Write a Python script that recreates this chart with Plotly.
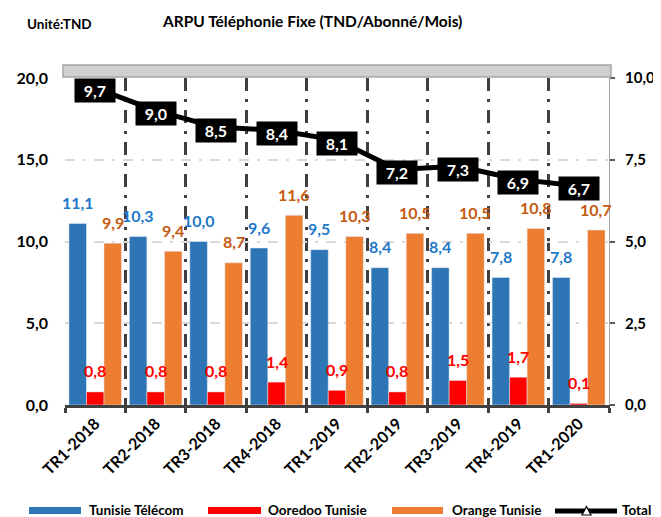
import plotly.graph_objects as go

# ---------------- data ----------------
categories = ["TR1-2018", "TR2-2018", "TR3-2018", "TR4-2018", "TR1-2019",
              "TR2-2019", "TR3-2019", "TR4-2019", "TR1-2020"]
tunisie_telecom = [11.1, 10.3, 10.0, 9.6, 9.5, 8.4, 8.4, 7.8, 7.8]
ooredoo_tunisie = [0.8, 0.8, 0.8, 1.4, 0.9, 0.8, 1.5, 1.7, 0.1]
orange_tunisie = [9.9, 9.4, 8.7, 11.6, 10.3, 10.5, 10.5, 10.8, 10.7]
total = [9.7, 9.0, 8.5, 8.4, 8.1, 7.2, 7.3, 6.9, 6.7]
left_ticks = [0, 5, 10, 15, 20]
right_ticks = [0, 2.5, 5, 7.5, 10]
series_names = ["Tunisie Télécom", "Ooredoo Tunisie", "Orange Tunisie", "Total"]

# ---------------- layout helpers ----------------
# The page body has an 8px margin, so the figure is drawn 8px in from the
# window's top-left corner.  Positions below are given in window pixels.
OFF = 8
WIN_W, WIN_H = 661, 517
PL, PR, PT, PB = 65, 609, 78, 405          # plot area in window pixels
W, H = WIN_W, WIN_H - OFF
ML, MT = PL - OFF, PT - OFF
MR, MB = W - (PR - OFF), H - (PB - OFF)
PW, PH = PR - PL, PB - PT
BARGAP = 0.13


def px(x):
    return (x - PL) / PW


def py(y):
    return (PB - y) / PH


def fmt(v):
    return f"{v:.1f}".replace(".", ",")


FONT = "Lato"
bar_colors = ["#2E75B6", "#FF0000", "#ED7D31"]
label_colors = ["#1F78C8", "#FF0000", "#C55A11"]
bar_series = [tunisie_telecom, ooredoo_tunisie, orange_tunisie]

fig = go.Figure()
for name, vals, col in zip(series_names[:3], bar_series, bar_colors):
    fig.add_trace(go.Bar(x=categories, y=vals, name=name, marker_color=col,
                         showlegend=False, hoverinfo="skip"))

fig.add_trace(go.Scatter(
    x=categories, y=total, name=series_names[3], yaxis="y2",
    mode="lines+markers", showlegend=False, hoverinfo="skip",
    line=dict(color="black", width=5),
    marker=dict(symbol="triangle-up", size=8, color="white",
                line=dict(color="black", width=1.5))))

annotations = []
bar_w_px = PW / len(categories) * (1 - BARGAP) / 3
for j, (vals, lc) in enumerate(zip(bar_series, label_colors)):
    for c, v in zip(categories, vals):
        annotations.append(dict(
            x=c, y=v, xref="x", yref="y", text=fmt(v), showarrow=False,
            xshift=(j - 1) * bar_w_px, yshift=21, yanchor="middle",
            font=dict(family=FONT, size=16, color=lc, weight="bold")))

for c, v in zip(categories, total):
    annotations.append(dict(
        x=c, y=v, xref="x", yref="y2", text=fmt(v), showarrow=False,
        yshift=-3, width=38, height=21, bgcolor="black",
        font=dict(family=FONT, size=16, color="white", weight="bold")))

# titles
annotations.append(dict(x=px(25), y=py(24), xref="paper", yref="paper",
                        text="Unité:TND", showarrow=False, xanchor="left",
                        yanchor="middle",
                        font=dict(family=FONT, size=13.5, color="black", weight="bold")))
annotations.append(dict(x=px(312), y=py(21), xref="paper", yref="paper",
                        text="ARPU Téléphonie Fixe (TND/Abonné/Mois)",
                        showarrow=False, xanchor="center", yanchor="middle",
                        font=dict(family=FONT, size=15.5, color="black", weight="bold")))

# custom legend
shapes = []
leg_y0, leg_y1 = 507, 514
leg_text_y = 510
leg_items = [(29, 81, 87), (208, 261, 266), (392, 443, 450)]
for (x0, x1, tx), col, name in zip(leg_items, bar_colors, series_names[:3]):
    shapes.append(dict(type="rect", xref="paper", yref="paper",
                       x0=px(x0), x1=px(x1), y0=py(leg_y1), y1=py(leg_y0),
                       fillcolor=col, line=dict(width=0)))
    annotations.append(dict(x=px(tx), y=py(leg_text_y), xref="paper", yref="paper",
                            text=name, showarrow=False, xanchor="left",
                            yanchor="middle",
                            font=dict(family=FONT, size=13.5, color="black", weight="bold")))
shapes.append(dict(type="line", xref="paper", yref="paper",
                   x0=px(555), x1=px(617), y0=py(511), y1=py(511),
                   line=dict(color="black", width=5)))
shapes.append(dict(type="path", xref="paper", yref="paper",
                   path=f"M {px(582)} {py(515)} L {px(591)} {py(515)} L {px(586.5)} {py(506.5)} Z",
                   fillcolor="white", line=dict(color="black", width=1.2)))
annotations.append(dict(x=px(620), y=py(leg_text_y), xref="paper", yref="paper",
                        text=series_names[3], showarrow=False, xanchor="left",
                        yanchor="middle",
                        font=dict(family=FONT, size=13.5, color="black", weight="bold")))

# gray band above plot area
shapes.append(dict(type="rect", xref="paper", yref="paper",
                   x0=px(63), x1=px(611), y0=py(77), y1=py(65),
                   fillcolor="#D0D0D0", line=dict(color="#A6A6A6", width=1.5)))

fig.update_layout(
    width=W, height=H, margin=dict(l=ML, r=MR, t=MT, b=MB, autoexpand=False),
    paper_bgcolor="white", plot_bgcolor="white",
    barmode="group", bargap=BARGAP, bargroupgap=0,
    hovermode=False, showlegend=False,
    font=dict(family=FONT, color="black"),
    annotations=annotations, shapes=shapes,
    xaxis=dict(type="category", range=[-0.5, len(categories) - 0.5],
               automargin=False,
               tickson="boundaries", showgrid=True, gridcolor="#404040",
               gridwidth=2.5, griddash="13px,8px,3px,8px",
               showline=True, linecolor="#404040", linewidth=3,
               ticks="outside", ticklen=5, tickwidth=3, tickcolor="#404040",
               tickangle=-45,
               tickfont=dict(family=FONT, size=16, color="black", weight="bold")),
    yaxis=dict(range=[0, 20], tickvals=left_ticks, automargin=False,
               ticktext=[fmt(t) for t in left_ticks],
               showgrid=True, gridcolor="#D9D9D9", gridwidth=2,
               griddash="10px,8px,3px,8px", zeroline=False, showline=False,
               ticks="", ticklabelstandoff=16,
               tickfont=dict(family=FONT, size=16, color="black", weight="bold")),
    yaxis2=dict(range=[0, 10], overlaying="y", side="right", automargin=False,
                tickvals=right_ticks, ticktext=[fmt(t) for t in right_ticks],
                showgrid=False, zeroline=False, showline=True,
                linecolor="#A6A6A6", linewidth=1,
                ticks="outside", ticklen=5, tickcolor="#595959", tickwidth=1.5,
                ticklabelstandoff=7, ticklabeloverflow="allow",
                tickfont=dict(family=FONT, size=15, color="black", weight="bold")),
)

fig.write_html("out.html")
